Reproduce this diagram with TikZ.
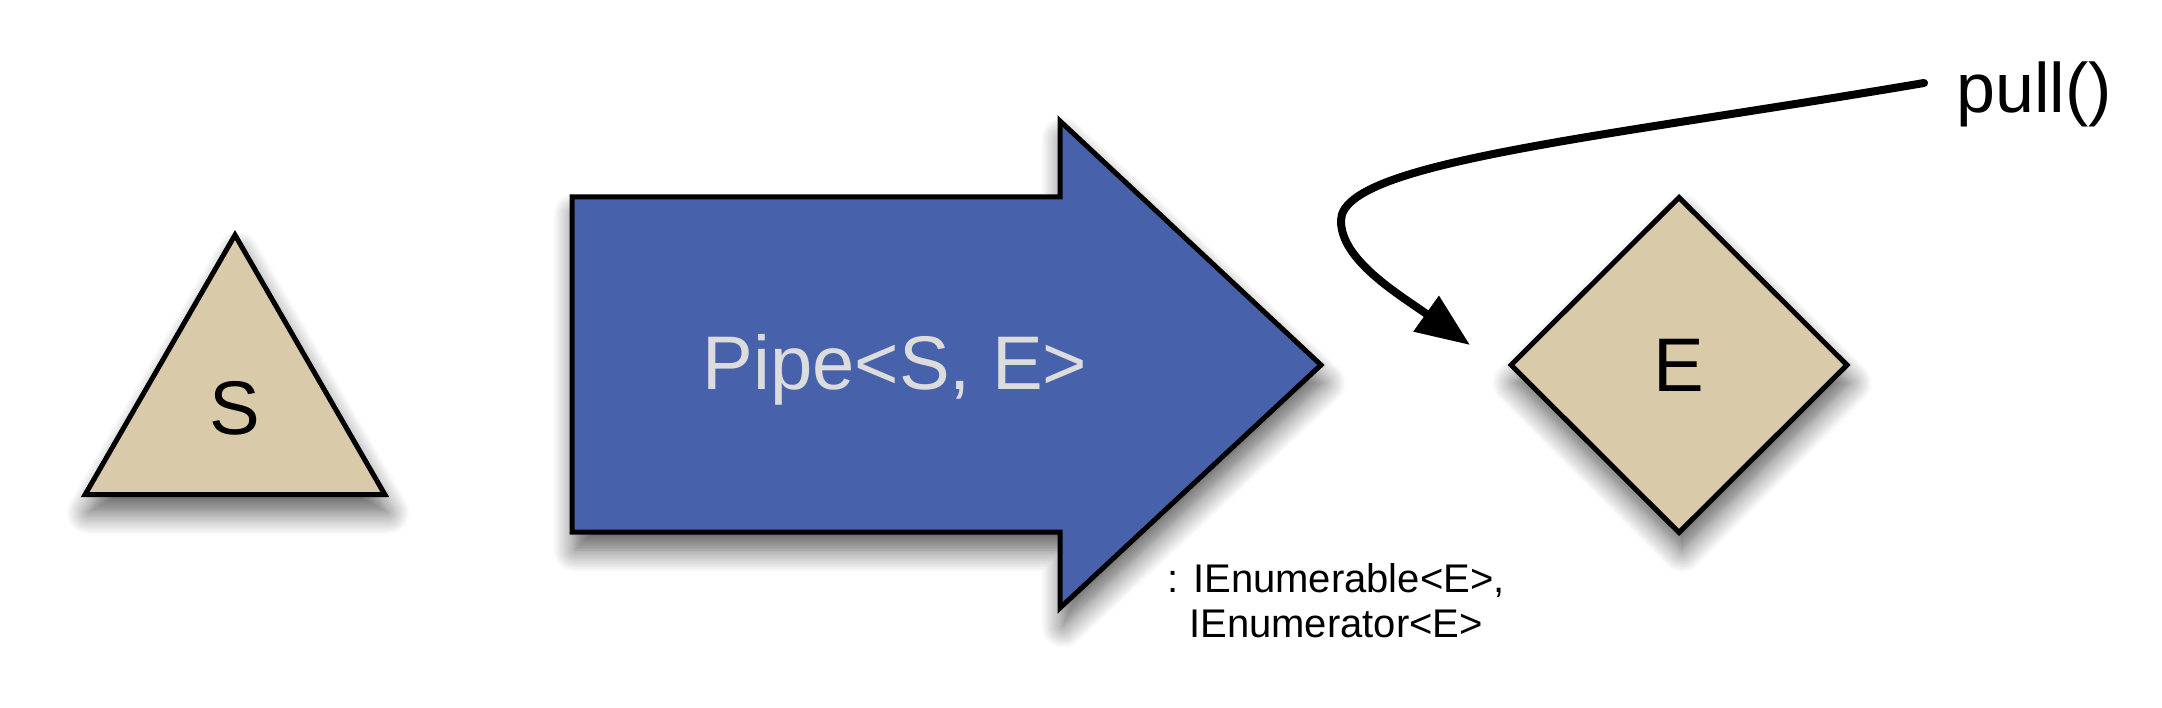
\documentclass[tikz,border=0pt]{standalone}
\usepackage{fontspec}
\setmainfont{Liberation Sans}
\usetikzlibrary{shapes.geometric,arrows.meta,shadows.blur}
\definecolor{tanfill}{RGB}{217,203,170}
\definecolor{pipeblue}{RGB}{71,98,171}
\definecolor{pipetextgray}{RGB}{220,220,220}
\begin{document}
\begin{tikzpicture}[x=1pt,y=-1pt,
  outline/.style={draw=black, line width=5pt, line join=miter},
  softshadow/.style={blur shadow={shadow xshift=3pt, shadow yshift=-18pt, shadow blur radius=22pt, shadow blur steps=14, shadow opacity=65}},
  tanshape/.style={outline, fill=tanfill, softshadow, inner sep=0pt, font=\fontsize{76}{90}\selectfont},
  pipeshape/.style={outline, fill=pipeblue, softshadow},
  pullarrow/.style={draw=black, line width=8pt, line cap=round, -{Triangle[length=54pt,width=42pt]}}
]
\useasboundingbox (0,0) rectangle (2162,708);

% source triangle
\node[tanshape, regular polygon, regular polygon sides=3, minimum size=346pt] (S) at (235,408) {S};

% pipe arrow
\path[pipeshape] (572,197) -- (1060,197) -- (1060,121) -- (1321,365) -- (1060,608) -- (1060,532) -- (572,532) -- cycle;
\node[text=pipetextgray, font=\fontsize{76}{90}\selectfont, inner sep=0pt] (pipe) at (895,370) {Pipe<S, E>};

% element diamond
\node[tanshape, diamond, minimum width=338pt, minimum height=337pt] (E) at (1679,365) {E};

% interfaces
\node[align=center, font=\fontsize{40}{45}\selectfont, inner sep=0pt] (iface) at (1336,601) {: IEnumerable<E>,\\IEnumerator<E>};

% pull
\node[anchor=west, inner sep=0pt, font=\fontsize{70}{84}\selectfont] (pull) at (1956,94) {pull()};
\coordinate (tipE) at (1470,345);
\draw[pullarrow] ([xshift=-32pt,yshift=11pt]pull.west) .. controls (1600,138) and (1343,162) .. (1341,220) .. controls (1340,260) and (1400,295) .. (tipE);
\end{tikzpicture}
\end{document}
